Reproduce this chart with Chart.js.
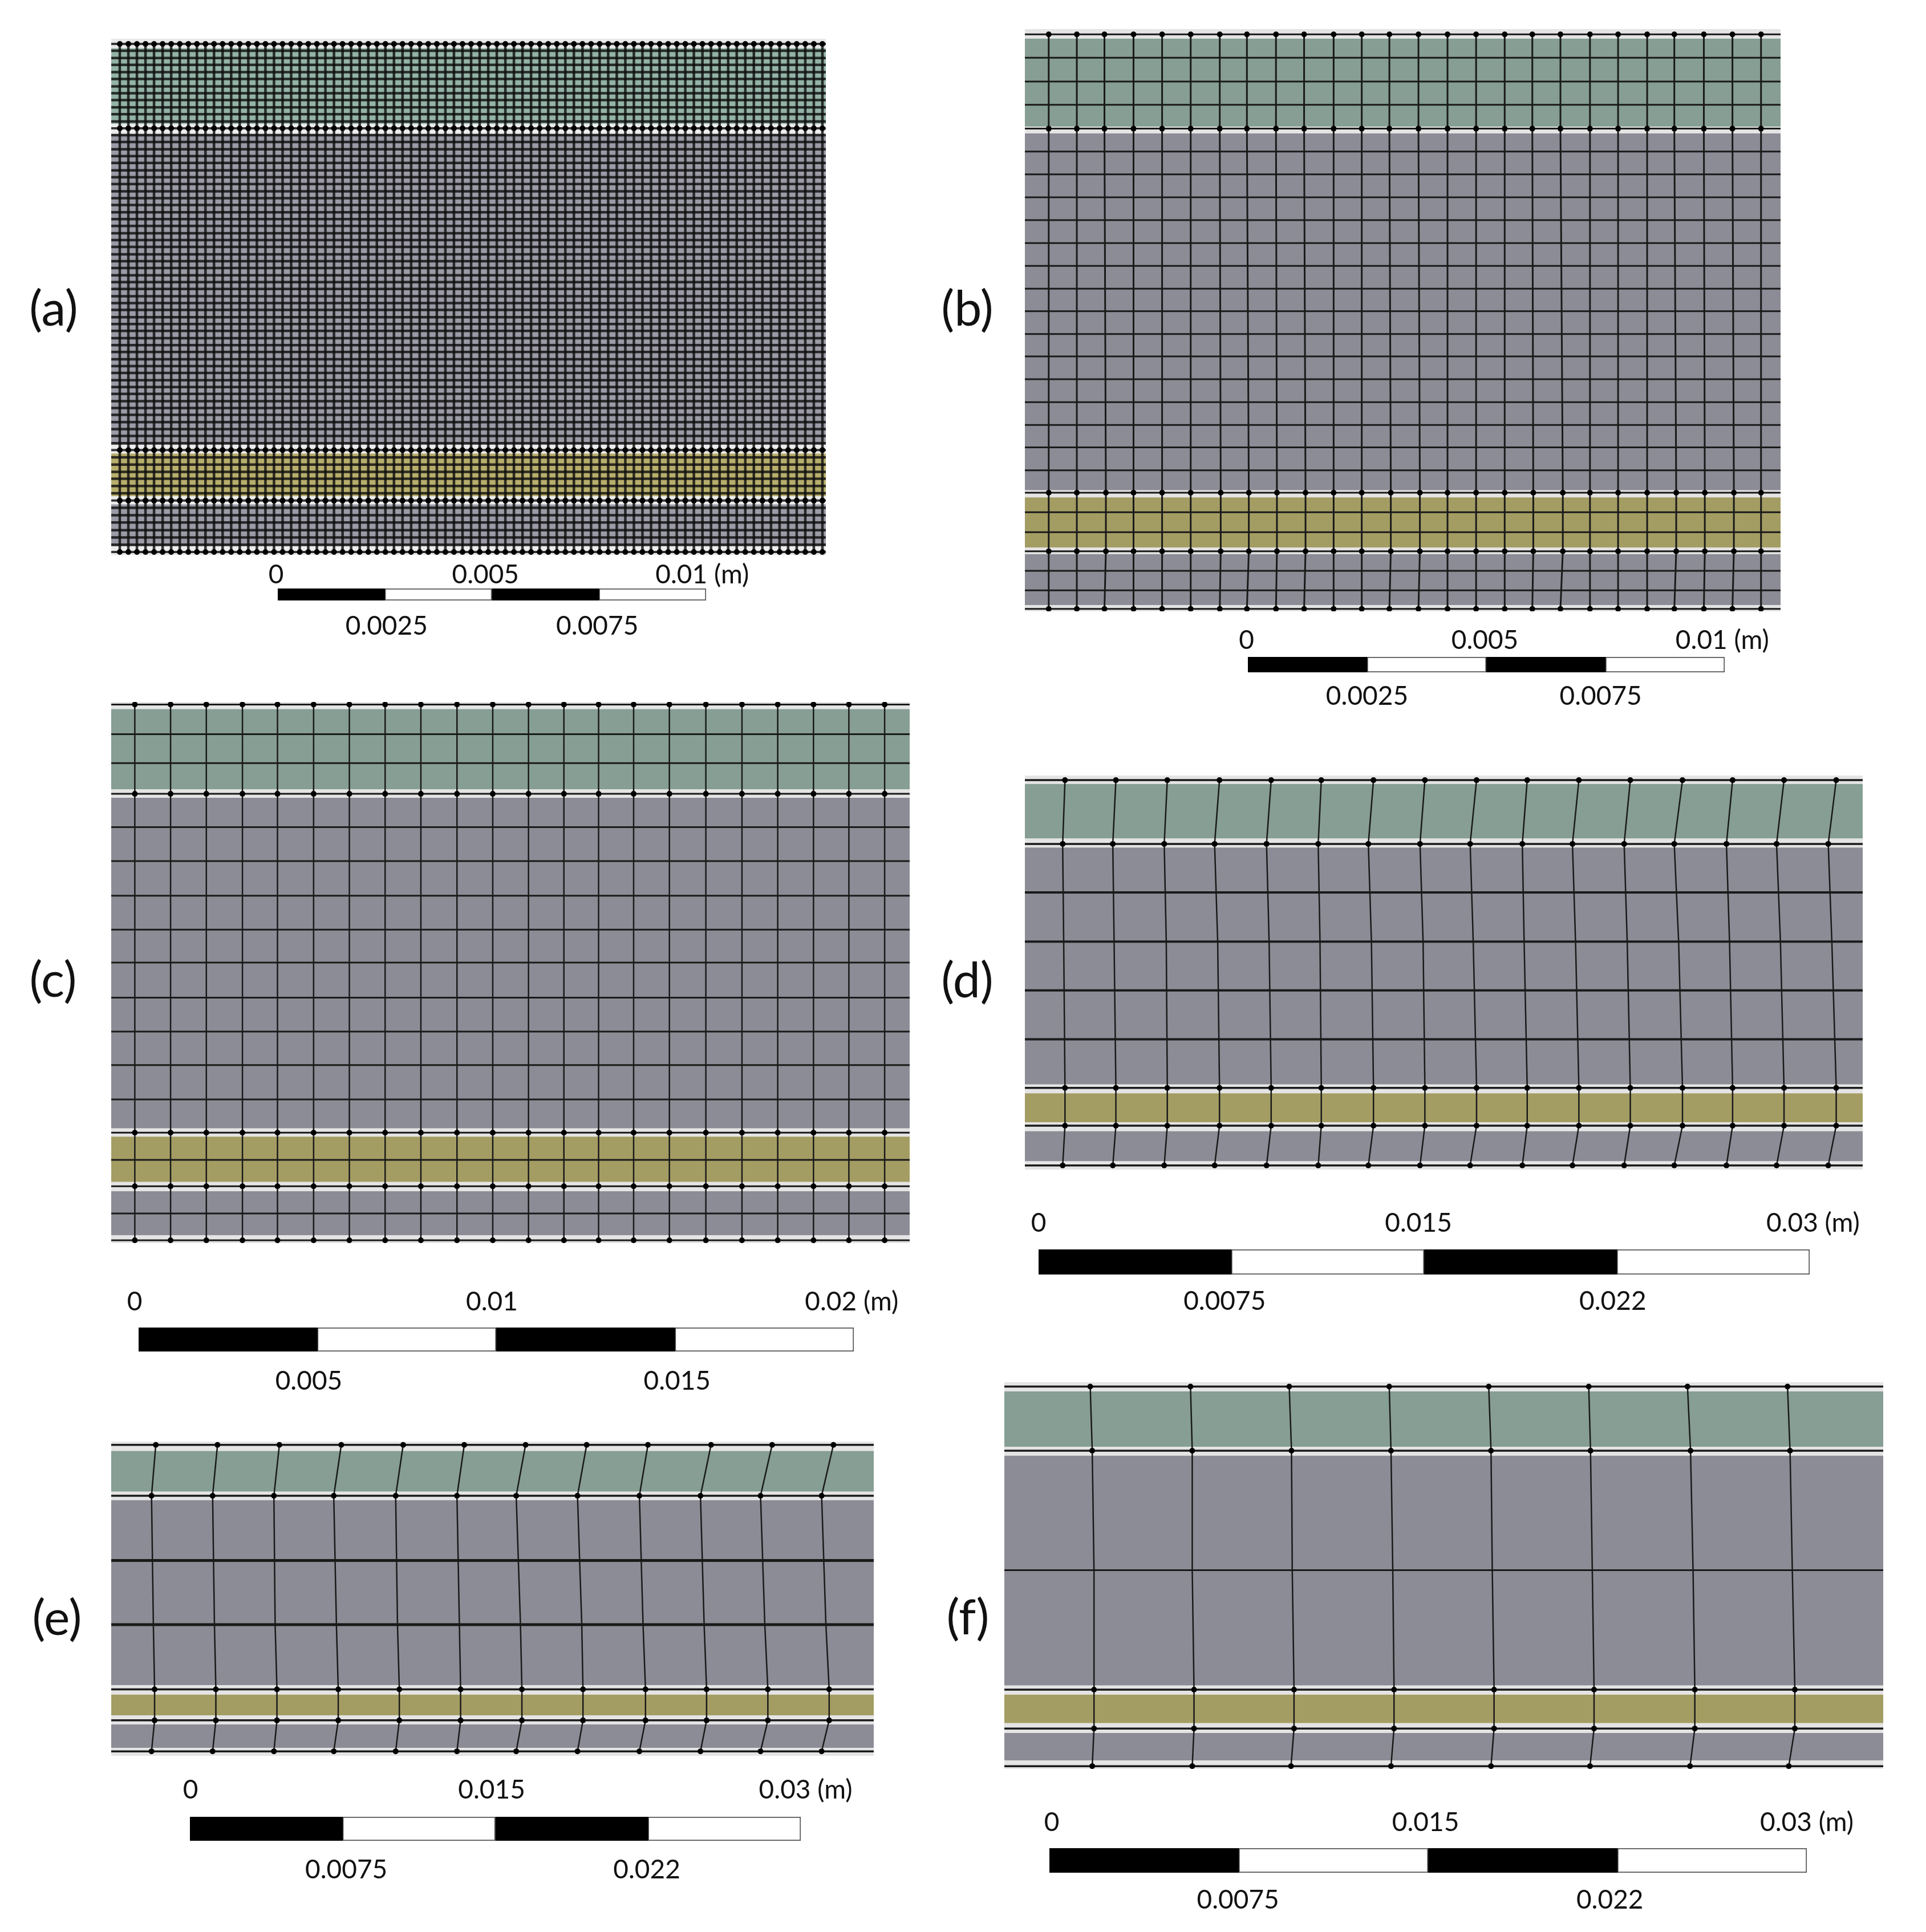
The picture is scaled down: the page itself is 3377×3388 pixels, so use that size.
<!DOCTYPE html>
<html>
<head>
<meta charset="utf-8">
<title>Mesh panels</title>
<script src="https://cdn.jsdelivr.net/npm/chart.js@4"></script>
<style>
html, body { margin: 0; padding: 0; background: #fff; }
#page { position: relative; width: 3377px; height: 3388px; overflow: hidden; }
canvas { position: absolute; }
.tag { position: absolute; font-family: Lato, sans-serif; font-size: 86px; line-height: 86px; color: #111; transform: translate(-50%, -50%); }
</style>
</head>
<body>
<div id="page"></div>
<script>

// layer boundaries from the top of the plate downwards
const layerEdges_a = [11.84, 10.07, 9.84, 2.58, 2.38, 1.38, 1.19, 0.21];
const layerEdges_b = [12.02, 10.17, 10.03, 2.54, 2.39, 1.34, 1.20, 0.13];
const layerEdges_c = [14.94, 12.70, 12.46, 3.21, 2.98, 1.71, 1.45, 0.22];
const layerEdges_d = [15.00, 12.88, 12.53, 3.31, 2.97, 1.84, 1.49, 0.32];
const layerEdges_e = [14.97, 12.97, 12.55, 3.47, 3.00, 1.99, 1.54, 0.39];
const layerEdges_f = [14.95, 12.76, 12.40, 3.30, 2.94, 1.81, 1.42, 0.34];

// interfaces that carry nodes
const nodes_a = [11.94, 9.97, 2.46, 1.28, 0.08];
const nodes_b = [12.11, 10.13, 2.49, 1.26, 0.05];
const nodes_c = [15.07, 12.57, 3.09, 1.59, 0.08];
const nodes_d = [15.15, 12.67, 3.18, 1.71, 0.16];
const nodes_e = [15.27, 12.77, 3.26, 1.74, 0.22];
const nodes_f = [15.14, 12.60, 3.14, 1.60, 0.11];

// horizontal mesh lines between the interfaces
const rows_a = [11.78, 11.61, 11.45, 11.28, 11.12, 10.95, 10.79, 10.63, 10.46, 10.30, 10.13,
    9.81, 9.65, 9.48, 9.32, 9.16, 8.99, 8.83, 8.67, 8.50, 8.34, 8.18, 8.01, 7.85, 7.69, 7.52,
    7.36, 7.20, 7.03, 6.87, 6.71, 6.54, 6.38, 6.22, 6.05, 5.89, 5.73, 5.56, 5.40, 5.24, 5.07,
    4.91, 4.75, 4.58, 4.42, 4.26, 4.09, 3.93, 3.77, 3.60, 3.44, 3.28, 3.11, 2.95, 2.79, 2.62,
    2.29, 2.12, 1.95, 1.79, 1.62, 1.45, 1.11, 0.94, 0.77, 0.59, 0.42, 0.25];
const rows_b = [11.62, 11.12, 10.63, 9.65, 9.17, 8.69, 8.21, 7.73, 7.25, 6.77, 6.30, 5.82, 5.35,
    4.87, 4.39, 3.91, 3.44, 2.96, 2.08, 1.66, 0.85, 0.44];
const rows_c = [14.24, 13.43, 11.64, 10.69, 9.72, 8.77, 7.85, 6.87, 5.92, 4.98, 4.02, 2.33, 0.83];
const rows_d = [10.78, 8.87, 6.97, 5.07];
const rows_e = [9.59, 6.44];
const rows_f = [7.87];

// vertical mesh lines, x of every line at each height in levels_*
const colX_a = [0.20, 0.40, 0.60, 0.80, 1.00, 1.20, 1.40, 1.60, 1.80, 2.00, 2.20, 2.40, 2.60, 2.80,
    3.00, 3.20, 3.40, 3.60, 3.80, 4.00, 4.20, 4.40, 4.60, 4.80, 5.00, 5.20, 5.40, 5.60, 5.80, 6.00,
    6.20, 6.40, 6.60, 6.80, 7.00, 7.20, 7.40, 7.60, 7.80, 8.00, 8.20, 8.40, 8.60, 8.80, 9.00, 9.20,
    9.40, 9.60, 9.80, 10.00, 10.20, 10.40, 10.60, 10.80, 11.00, 11.20, 11.40, 11.60, 11.80, 12.00,
    12.20, 12.40, 12.60, 12.80, 13.00, 13.20, 13.40, 13.60, 13.80, 14.00, 14.20, 14.40, 14.60, 14.80,
    15.00, 15.20, 15.40, 15.60, 15.80, 16.00, 16.20, 16.40, 16.60];
const colX_b = [0.50, 1.09, 1.67, 2.28, 2.88, 3.48, 4.09, 4.66, 5.27, 5.86, 6.48, 7.07, 7.65, 8.26,
    8.87, 9.47, 10.07, 10.65, 11.24, 11.86, 12.45, 13.06, 13.63, 14.25, 14.85, 15.45];
const colXLow_b = [0.50, 1.09, 1.70, 2.28, 2.88, 3.48, 4.11, 4.70, 5.29, 5.89, 6.48, 7.07, 7.68, 8.29,
    8.87, 9.47, 10.07, 10.67, 11.29, 11.86, 12.45, 13.06, 13.67, 14.27, 14.88, 15.45];
const colX_c = [0.66, 1.66, 2.66, 3.67, 4.65, 5.66, 6.66, 7.66, 8.66, 9.67, 10.67, 11.67, 12.66,
    13.63, 14.61, 15.61, 16.63, 17.64, 18.64, 19.64, 20.63, 21.63];
const colXTop_d = [1.56, 3.54, 5.54, 7.57, 9.58, 11.53, 13.56, 15.56, 17.57, 19.54, 21.55, 23.55, 25.58, 27.53, 29.53, 31.56];
const colXSkew_d = [1.47, 3.42, 5.42, 7.38, 9.40, 11.41, 13.36, 15.37, 17.32, 19.35, 21.30, 23.31, 25.26, 27.29, 29.24, 31.25];
const colXMid_d = [1.51, 3.47, 5.50, 7.50, 9.50, 11.48, 13.48, 15.49, 17.44, 19.42, 21.42, 23.43, 25.43, 27.41, 29.39, 31.39];
const colXTop_e = [2.19, 5.22, 8.26, 11.30, 14.34, 17.34, 20.35, 23.35, 26.36, 29.46, 32.46, 35.47];
const colXSkew_e = [1.98, 4.98, 7.99, 10.93, 13.97, 16.98, 19.89, 22.90, 25.94, 28.94, 31.89, 34.89];
const colXMid_e = [2.07, 5.07, 8.05, 11.06, 14.06, 17.10, 20.10, 23.11, 26.12, 29.12, 32.10, 35.10];
const colXLow_e = [2.13, 5.14, 8.14, 11.15, 14.15, 17.16, 20.17, 23.17, 26.24, 29.24, 32.25, 35.26];
const colXTop_f = [3.40, 7.37, 11.28, 15.24, 19.18, 23.14, 27.05, 31.01];
const colXSkew_f = [3.48, 7.44, 11.37, 15.31, 19.27, 23.21, 27.17, 31.11];
const colXMid_f = [3.55, 7.44, 11.40, 15.38, 19.32, 23.28, 27.27, 31.20];
const colXLow_f = [3.55, 7.51, 11.47, 15.43, 19.39, 23.35, 27.34, 31.30];
const colXEnd_f = [3.48, 7.44, 11.35, 15.31, 19.27, 23.19, 27.15, 31.06];

const levels_a = nodes_a;
const levels_b = nodes_b;
const levels_c = nodes_c;
const levels_d = [15.15, 12.67, 8.87, 3.18, 1.71, 0.16];
const levels_e = [15.27, 12.77, 6.44, 3.26, 1.74, 0.22];
const levels_f = [15.14, 12.60, 7.87, 3.14, 1.60, 0.11];

// scale bars, in metres
const barSegs_a = [0.0025, 0.0025, 0.0025, 0.0025];
const barSegs_c = [0.005, 0.005, 0.005, 0.005];
const barSegs_d = [0.0075, 0.0075, 0.0075, 0.0075];
const topLabels_a = ['0', '0.005', '0.01 (m)'];
const lowLabels_a = ['0.0025', '0.0075'];
const topLabels_c = ['0', '0.01', '0.02 (m)'];
const lowLabels_c = ['0.005', '0.015'];
const topLabels_d = ['0', '0.015', '0.03 (m)'];
const lowLabels_d = ['0.0075', '0.022'];
// where the centre of each label sits along its bar
const topAt_a = [-0.00004, 0.00485, 0.00991];
const lowAt_a = [0.00254, 0.00746];
const topAt_b = [-0.00003, 0.00497, 0.00995];
const lowAt_b = [0.0025, 0.0074];
const topAt_c = [-0.00011, 0.00988, 0.01994];
const lowAt_c = [0.00476, 0.01506];
const topAt_d = [0, 0.01478, 0.03013];
const lowAt_d = [0.00724, 0.02234];
const topAt_e = [0.00003, 0.01482, 0.03024];
const lowAt_e = [0.00768, 0.02244];
const topAt_f = [0.00009, 0.0149, 0.03];
const lowAt_f = [0.00747, 0.0222];

const BAND = '#e4e4e4';
const LAYERS = [BAND, '#869e93', BAND, '#8c8c96', BAND, '#a49d63', BAND, '#8c8c96', BAND];
const LAYERS_FINE = ['#e8e8e8', '#93b3a6', '#ececec', '#9b9ba7', '#ececec', '#b7ae6c', '#ececec', '#9b9ba7', '#ececec'];
const INK = '#1a1a1a';
// room around a mesh for its node markers, chart.js insets the plot by their size otherwise
const MARGIN = 8;

const panels = [
    { tag: '(a)', tagX: 94, tagY: 538, box: [195, 68, 1448, 974], xMax: 16.68, yMax: 12.06,
      edges: layerEdges_a, nodes: nodes_a, rows: rows_a, levels: levels_a,
      cols: [colX_a, colX_a, colX_a, colX_a, colX_a], colours: LAYERS_FINE,
      rowW: 4.5, colW: 4.5, nodeW: 4, dot: 5, ink: 'rgba(15,15,15,0.82)',
      bar: [487, 1032, 1238, 1053], segs: barSegs_a, top: topLabels_a, low: lowLabels_a, topAt: topAt_a, lowAt: lowAt_a, padTop: 1, padLow: 22 },
    { tag: '(b)', tagX: 1696, tagY: 538, box: [1797, 51, 3122, 1072], xMax: 15.86, yMax: 12.22,
      edges: layerEdges_b, nodes: nodes_b, rows: rows_b, levels: levels_b,
      cols: [colX_b, colX_b, colXLow_b, colXLow_b, colX_b], colours: LAYERS,
      rowW: 3, colW: 3, nodeW: 3, dot: 5, ink: INK,
      bar: [2187.5, 1152, 3023, 1179], segs: barSegs_a, top: topLabels_a, low: lowLabels_a, topAt: topAt_b, lowAt: lowAt_b, padTop: 6, padLow: 19 },
    { tag: '(c)', tagX: 93, tagY: 1715, box: [195, 1231, 1595, 2180], xMax: 22.33, yMax: 15.14,
      edges: layerEdges_c, nodes: nodes_c, rows: rows_c, levels: levels_c,
      cols: [colX_c, colX_c, colX_c, colX_c, colX_c], colours: LAYERS,
      rowW: 3, colW: 2.5, nodeW: 3, dot: 5, ink: INK,
      bar: [242.8, 2327.5, 1497, 2369], segs: barSegs_c, top: topLabels_c, low: lowLabels_c, topAt: topAt_c, lowAt: lowAt_c, padTop: 22, padLow: 29 },
    { tag: '(d)', tagX: 1696, tagY: 1716, box: [1796.5, 1360, 3265.7, 2051], xMax: 32.59, yMax: 15.33,
      edges: layerEdges_d, nodes: nodes_d, rows: rows_d, levels: levels_d,
      cols: [colXTop_d, colXSkew_d, colXMid_d, colXTop_d, colXTop_d, colXSkew_d], colours: LAYERS,
      rowW: 4, colW: 2.5, nodeW: 3.5, dot: 5, ink: INK,
      bar: [1820.7, 2191, 3173.2, 2235], segs: barSegs_d, top: topLabels_d, low: lowLabels_d, topAt: topAt_d, lowAt: lowAt_d, padTop: 23, padLow: 24 },
    { tag: '(e)', tagX: 100, tagY: 2834, box: [195, 2528, 1532, 3079], xMax: 37.45, yMax: 15.43,
      edges: layerEdges_e, nodes: nodes_e, rows: rows_e, levels: levels_e,
      cols: [colXTop_e, colXSkew_e, colXMid_e, colXLow_e, colXLow_e, colXSkew_e], colours: LAYERS,
      rowW: 5, colW: 2.5, nodeW: 3.5, dot: 5, ink: INK,
      bar: [332.8, 3185.5, 1404, 3227], segs: barSegs_d, top: topLabels_d, low: lowLabels_d, topAt: topAt_e, lowAt: lowAt_e, padTop: 24, padLow: 28 },
    { tag: '(f)', tagX: 1697, tagY: 2833, box: [1761, 2424, 3302, 3102], xMax: 34.80, yMax: 15.31,
      edges: layerEdges_f, nodes: nodes_f, rows: rows_f, levels: levels_f,
      cols: [colXTop_f, colXSkew_f, colXMid_f, colXLow_f, colXLow_f, colXEnd_f], colours: LAYERS,
      rowW: 3, colW: 2.5, nodeW: 3.5, dot: 5, ink: INK,
      bar: [1840, 3241, 3168.4, 3284], segs: barSegs_d, top: topLabels_d, low: lowLabels_d, topAt: topAt_f, lowAt: lowAt_f, padTop: 22, padLow: 25 }
];

const page = document.getElementById('page');

function addCanvas(left, top, width, height) {
    const c = document.createElement('canvas');
    c.width = Math.round(width);
    c.height = Math.round(height);
    c.style.left = left + 'px';
    c.style.top = top + 'px';
    c.style.width = Math.round(width) + 'px';
    c.style.height = Math.round(height) + 'px';
    page.appendChild(c);
    return c;
}

function lineSet(points, colour, width) {
    return { data: points, borderColor: colour, borderWidth: width, pointRadius: 0, fill: false };
}

function drawMesh(p) {
    const sets = [];
    // layers, as filled strips
    const edges = [p.yMax].concat(p.edges, [0]);
    p.colours.forEach(function (colour, i) {
        sets.push({
            data: [{ x: 0, y: edges[i] }, { x: p.xMax, y: edges[i] }],
            borderWidth: 0, pointRadius: 0,
            backgroundColor: colour, fill: { value: edges[i + 1] }
        });
    });
    p.rows.forEach(function (y) {
        sets.push(lineSet([{ x: 0, y: y }, { x: p.xMax, y: y }], p.ink, p.rowW));
    });
    p.nodes.forEach(function (y) {
        sets.push(lineSet([{ x: 0, y: y }, { x: p.xMax, y: y }], p.ink, p.nodeW));
    });
    p.cols[0].forEach(function (_, c) {
        sets.push(lineSet(p.levels.map(function (y, l) {
            return { x: p.cols[l][c], y: y };
        }), p.ink, p.colW));
    });
    // black nodes on the interfaces
    const dots = [];
    p.levels.forEach(function (y, l) {
        if (p.nodes.indexOf(y) < 0) return;
        p.cols[l].forEach(function (x) { dots.push({ x: x, y: y }); });
    });
    sets.push({ data: dots, showLine: false, pointRadius: p.dot, pointBorderWidth: 0, pointBackgroundColor: '#000' });

    const b = p.box;
    new Chart(addCanvas(b[0] - MARGIN, b[1] - MARGIN, b[2] - b[0] + 2 * MARGIN, b[3] - b[1] + 2 * MARGIN), {
        type: 'line',
        // chart.js paints the first dataset last
        data: { datasets: sets.reverse() },
        options: {
            responsive: false,
            animation: false,
            devicePixelRatio: 1,
            layout: { padding: MARGIN },
            plugins: { legend: { display: false }, tooltip: { enabled: false } },
            scales: {
                x: { type: 'linear', display: false, min: 0, max: p.xMax },
                y: { type: 'linear', display: false, min: 0, max: p.yMax }
            }
        }
    });
}

function labelAxis(pos, at, labels, pad, height, total) {
    return {
        type: 'linear', axis: 'x', position: pos, min: 0, max: total, stacked: true,
        grid: { display: false, drawTicks: false },
        border: { display: false },
        ticks: {
            autoSkip: false, maxRotation: 0, minRotation: 0, padding: pad, color: '#111',
            font: { family: 'Lato', size: 46, lineHeight: 1 },
            callback: function (v, i) { return labels[i]; }
        },
        afterBuildTicks: function (axis) {
            axis.ticks = at.map(function (v) { return { value: v }; });
        },
        afterFit: function (axis) {
            axis.height = height;
            axis.paddingLeft = 0;
            axis.paddingRight = 0;
        }
    };
}

function drawScaleBar(p) {
    const b = p.bar;
    const total = p.segs.reduce(function (s, v) { return s + v; }, 0);
    const topH = p.padTop + 50, lowH = p.padLow + 50, side = 60, right = 170;
    const sets = p.segs.map(function (v, i) {
        return {
            data: [v], backgroundColor: i % 2 ? '#fff' : '#000',
            borderColor: '#555', borderWidth: i % 2 ? 2 : 0, borderSkipped: false,
            barPercentage: 1, categoryPercentage: 1
        };
    });
    new Chart(addCanvas(b[0] - side, b[1] - topH, b[2] - b[0] + side + right, b[3] - b[1] + topH + lowH), {
        type: 'bar',
        data: { labels: [''], datasets: sets },
        options: {
            indexAxis: 'y',
            responsive: false,
            animation: false,
            devicePixelRatio: 1,
            layout: { padding: { left: side, right: right, top: 0, bottom: 0 } },
            plugins: { legend: { display: false }, tooltip: { enabled: false } },
            scales: {
                x: labelAxis('top', p.topAt, p.top, p.padTop, topH, total),
                x2: labelAxis('bottom', p.lowAt, p.low, p.padLow, lowH, total),
                y: { type: 'category', display: false, stacked: true }
            }
        }
    });
}

panels.forEach(function (p) {
    drawMesh(p);
    drawScaleBar(p);
    const t = document.createElement('div');
    t.className = 'tag';
    t.textContent = p.tag;
    t.style.left = p.tagX + 'px';
    t.style.top = p.tagY + 'px';
    page.appendChild(t);
});
</script>
</body>
</html>
